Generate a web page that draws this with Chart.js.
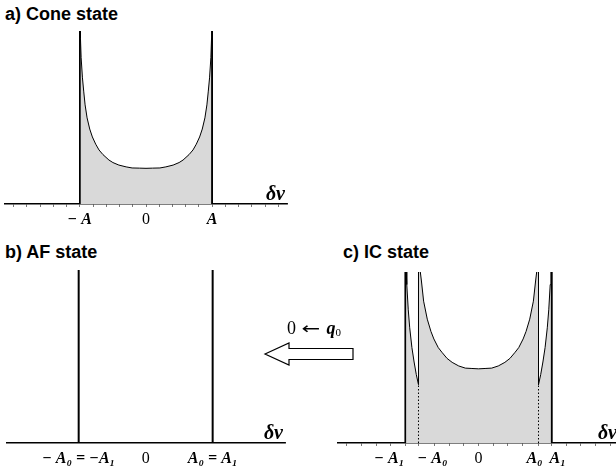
<!DOCTYPE html>
<html>
<head>
<meta charset="utf-8">
<script src="https://cdn.jsdelivr.net/npm/chart.js@4.4.1/dist/chart.umd.min.js"></script>
<style>
    html, body { margin: 0; padding: 0; width: 616px; height: 470px; overflow: hidden; background: #fff; }
    canvas { position: absolute; }
    .title { position: absolute; font: bold 18px "Liberation Sans", Arial, sans-serif; line-height: 18px; white-space: nowrap; }
    #arrow-text { position: absolute; left: 287px; top: 318px; font: 18px "Liberation Serif", serif; white-space: nowrap; }
    #arrow-text .arr { font-family: "DejaVu Sans", sans-serif; font-weight: normal; font-size: 16px; display: inline-block; transform: scaleX(1.4); margin: 0 9px 0 8px; }
    #arrow-text sub { font-size: 11px; vertical-align: -2px; }
</style>
</head>
<body>
<div class="title" style="left:5px;top:5px">a) Cone state</div>
<div class="title" style="left:5px;top:243px">b) AF state</div>
<div class="title" style="left:343px;top:243px">c) IC state</div>

<canvas id="cone-chart" width="300" height="232" style="left:0;top:0"></canvas>
<canvas id="af-chart" width="300" height="238" style="left:0;top:232px"></canvas>
<canvas id="ic-chart" width="310" height="238" style="left:316px;top:232px"></canvas>

<div id="arrow-text">0<span class="arr">←</span><b><i>q</i></b><sub>0</sub></div>
<svg style="position:absolute;left:260px;top:338px" width="100" height="32">
    <polygon points="5,16 29,5 29,10.5 93,10.5 93,21.5 29,21.5 29,27" fill="#fff" stroke="#000" stroke-width="1.2"/>
</svg>

<script>
'use strict';

// a) cone state: density of delta-nu, x in units of A
let coneX = [-1, -1, -0.995, -0.99, -0.98, -0.96, -0.94, -0.92, -0.89, -0.85, -0.81, -0.76, -0.71, -0.65, -0.56, -0.5, -0.41, -0.3, -0.21, -0.1, 0,
    0.1, 0.21, 0.3, 0.41, 0.5, 0.56, 0.65, 0.71, 0.76, 0.81, 0.85, 0.89, 0.92, 0.94, 0.96, 0.98, 0.99, 0.995, 1, 1];
let coneY = [0, 6, 5.2, 4.6, 4.06, 3.5, 3.11, 2.75, 2.39, 2.08, 1.86, 1.66, 1.5, 1.37, 1.22, 1.15, 1.08, 1.03, 1.0, 0.995, 0.99,
    0.995, 1.0, 1.03, 1.08, 1.15, 1.22, 1.37, 1.5, 1.66, 1.86, 2.08, 2.39, 2.75, 3.11, 3.5, 4.06, 4.6, 5.2, 6, 0];
let coneWalls = [-1, 1];
let coneTickValues = [-1, 0, 1];
let coneTickLabels = ['− A', '0', 'A'];

// b) AF state: two delta lines at -A0 = -A1 and A0 = A1
let afLines = [-1, 1];
let afTickValues = [-1, 0, 1];
let afTickLabels = ['− A₀ = −A₁', '0', 'A₀ = A₁'];

// c) IC state, x in units of A1
let icX = [-1, -1, -0.99, -0.98, -0.96, -0.94, -0.91, -0.88, -0.85, -0.82, -0.82, -0.805, -0.795, -0.78, -0.75, -0.7, -0.65, -0.61, -0.55, -0.5, -0.43, -0.36, -0.27, -0.18, -0.09, 0,
    0.09, 0.18, 0.27, 0.36, 0.43, 0.5, 0.55, 0.61, 0.65, 0.7, 0.75, 0.78, 0.795, 0.805, 0.82, 0.82, 0.85, 0.88, 0.91, 0.94, 0.96, 0.98, 0.99, 1, 1];
let icY = [0, 6, 4.9, 4.4, 3.7, 3.2, 2.65, 2.25, 1.9, 1.62, 6, 5.4, 4.75, 4.5, 3.94, 3.44, 3.1, 2.89, 2.65, 2.52, 2.35, 2.24, 2.14, 2.08, 2.07, 2.06,
    2.07, 2.08, 2.14, 2.24, 2.35, 2.52, 2.65, 2.89, 3.1, 3.44, 3.94, 4.5, 4.75, 5.4, 6, 1.62, 1.9, 2.25, 2.65, 3.2, 3.7, 4.4, 4.9, 6, 0];
let icWalls = [-1, 1];
let icCuspX = [-0.82, 0.82];
let icCuspY = [1.62, 1.62];
let icTickValues = [-1, -0.82, 0, 0.82, 1];
// spaces nudge the crowded labels apart like in the original
let icTickLabels = ['− A₁        ', '       − A₀', '0', 'A₀  ', '   A₁'];

let peakTop = 6;
let fillGray = '#d9d9d9';

let deltaNuLabel = {
    id: 'deltaNuLabel',
    afterDraw: function(chart) {
        let ctx = chart.ctx;
        let area = chart.chartArea;
        ctx.save();
        ctx.font = 'bold italic 20px "Liberation Serif", serif';
        ctx.textAlign = 'right';
        ctx.textBaseline = 'alphabetic';
        ctx.fillStyle = '#000';
        ctx.fillText('δν', area.right - 2, area.bottom - 4);
        ctx.restore();
    }
};

function tickFont(context) {
    let upright = context.tick && context.tick.value === 0;
    return {
        family: '"Liberation Serif", "Times New Roman", serif',
        size: 16,
        weight: upright ? 'normal' : 'bold',
        style: upright ? 'normal' : 'italic'
    };
}

function buildOptions(xMin, xMax, yMax, pad, tickValues, tickLabels, minorStep) {
    return {
        responsive: false,
        animation: false,
        events: [],
        layout: { padding: pad },
        plugins: {
            legend: { display: false },
            tooltip: { enabled: false }
        },
        scales: {
            x: {
                type: 'linear',
                min: xMin,
                max: xMax,
                border: { display: true, color: '#000', width: 1.5 },
                grid: {
                    drawOnChartArea: false,
                    drawTicks: true,
                    tickLength: 3,
                    lineWidth: 0.8,
                    color: minorStep ? '#555' : 'rgba(0,0,0,0)'
                },
                afterBuildTicks: function(scale) {
                    let values = tickValues.slice();
                    if (minorStep) {
                        for (let v = Math.ceil(xMin / minorStep) * minorStep; v <= xMax; v += minorStep) {
                            let r = Math.round(v * 10) / 10;
                            if (!values.some(function(t) { return Math.abs(t - r) < 0.05; })) {
                                values.push(r);
                            }
                        }
                    }
                    values.sort(function(a, b) { return a - b; });
                    scale.ticks = values.map(function(v) { return { value: v }; });
                },
                afterFit: function(scale) {
                    scale.height = 26;
                },
                ticks: {
                    autoSkip: false,
                    maxRotation: 0,
                    padding: 3,
                    color: '#000',
                    font: tickFont,
                    callback: function(value) {
                        let i = tickValues.findIndex(function(t) { return Math.abs(t - value) < 1e-6; });
                        return i >= 0 ? tickLabels[i] : '';
                    }
                }
            },
            y: {
                display: false,
                min: 0,
                max: yMax
            }
        }
    };
}

function pts(xs, ys) {
    return xs.map(function(x, i) { return { x: x, y: ys[i] }; });
}

function wallSets(xs, width) {
    return xs.map(function(x) {
        return {
            data: [{ x: x, y: 0 }, { x: x, y: peakTop }],
            borderColor: '#000',
            borderWidth: width,
            pointRadius: 0,
            fill: false
        };
    });
}

// a) Cone state
let coneChart = new Chart(document.getElementById('cone-chart'), {
    type: 'line',
    data: {
        datasets: wallSets(coneWalls, 1.6).concat([{
            data: pts(coneX, coneY),
            borderColor: '#000',
            borderWidth: 1,
            backgroundColor: fillGray,
            fill: 'origin',
            pointRadius: 0,
            tension: 0
        }])
    },
    options: buildOptions(-2.13, 2.13, 4.8, { left: 5, right: 13, top: 31, bottom: 2 }, coneTickValues, coneTickLabels, 0.2),
    plugins: [deltaNuLabel]
});

// b) AF state
let afChart = new Chart(document.getElementById('af-chart'), {
    type: 'line',
    data: {
        datasets: wallSets(afLines, 2)
    },
    options: buildOptions(-2.07, 2.08, 4.8, { left: 7, right: 15, top: 38, bottom: 1 }, afTickValues, afTickLabels, 0),
    plugins: [deltaNuLabel]
});

// c) IC state
let icChart = new Chart(document.getElementById('ic-chart'), {
    type: 'line',
    data: {
        datasets: wallSets(icWalls, 1.6).concat(icCuspX.map(function(x, i) {
            return {
                data: [{ x: x, y: 0 }, { x: x, y: icCuspY[i] }],
                borderColor: '#000',
                borderWidth: 1,
                borderDash: [1.5, 2],
                pointRadius: 0,
                fill: false
            };
        }), [{
            data: pts(icX, icY),
            borderColor: '#000',
            borderWidth: 1,
            backgroundColor: fillGray,
            fill: 'origin',
            pointRadius: 0,
            tension: 0
        }])
    },
    options: buildOptions(-1.92, 1.92, 4.75, { left: 22, right: 7, top: 40, bottom: 1 }, icTickValues, icTickLabels, 0.2),
    plugins: [deltaNuLabel]
});
</script>
</body>
</html>
